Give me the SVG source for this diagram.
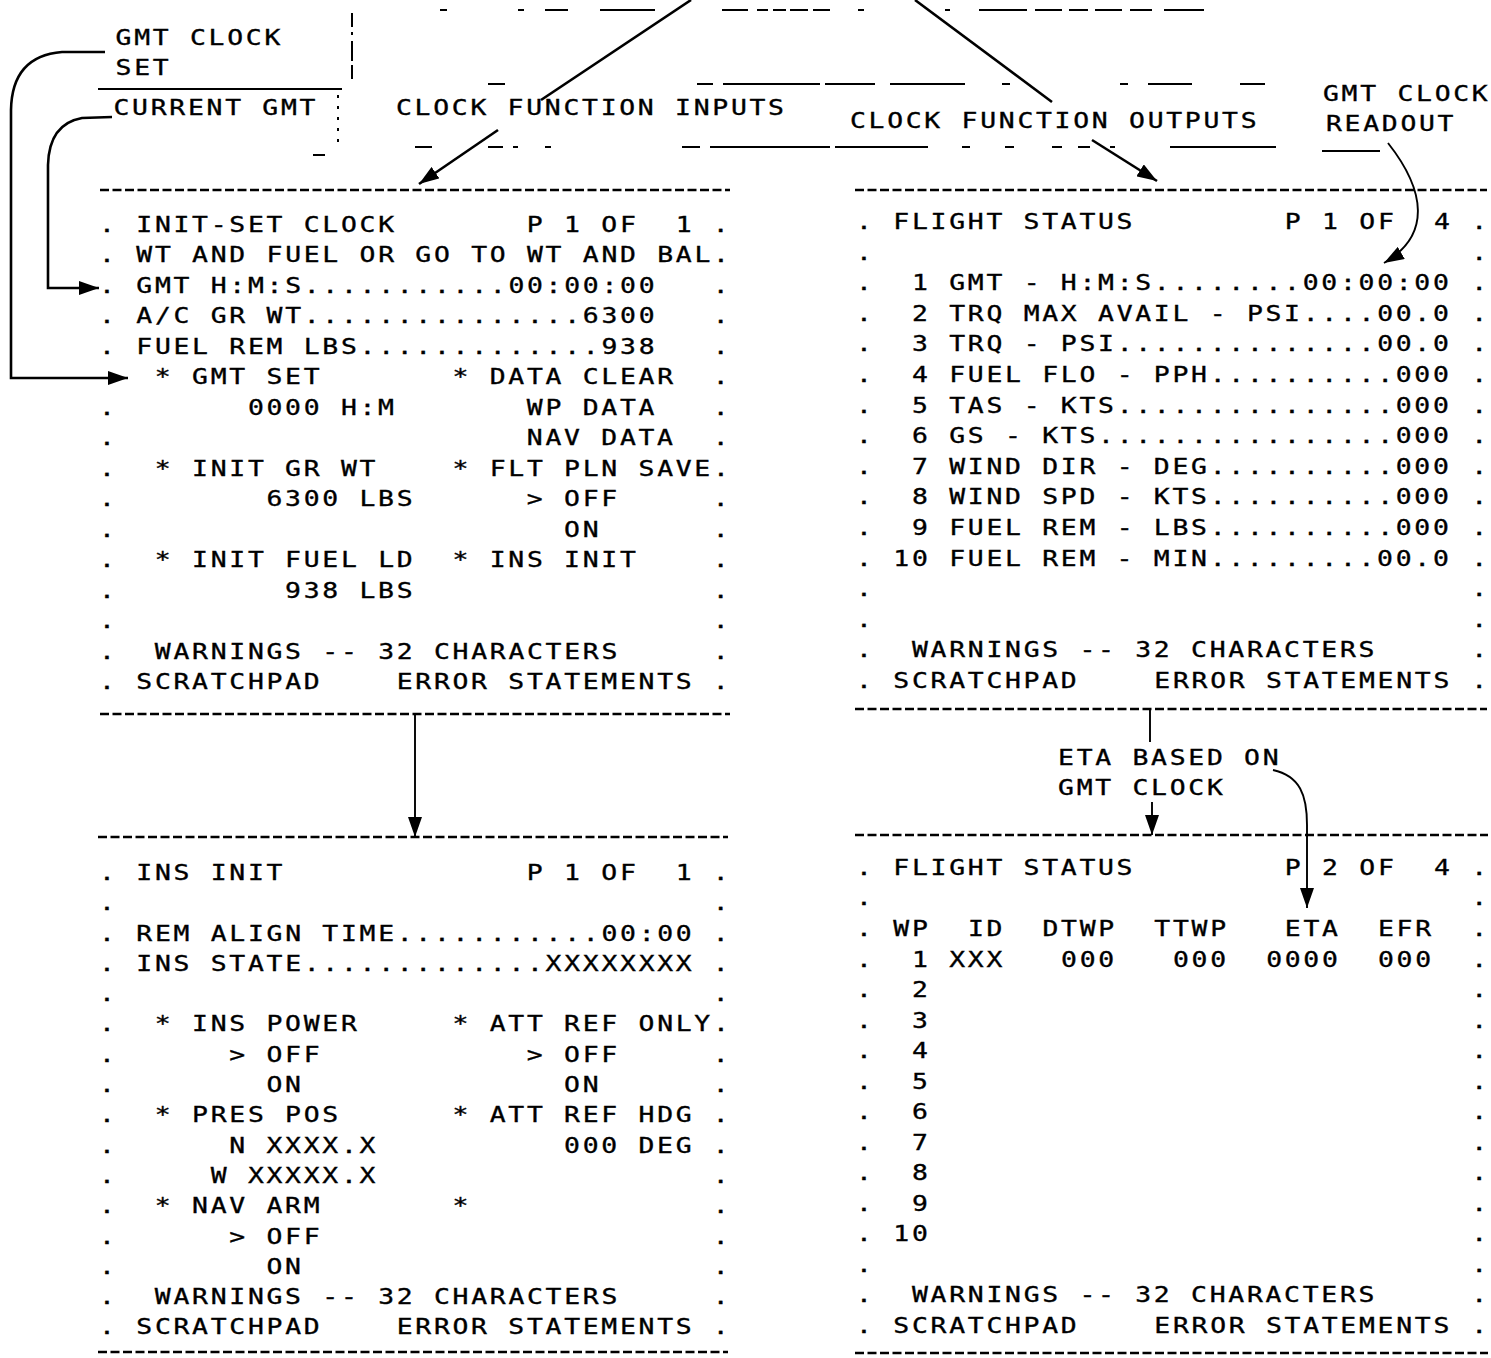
<svg xmlns="http://www.w3.org/2000/svg" width="1491" height="1358" viewBox="0 0 1491 1358">
<style>
.t{font-family:"DejaVu Sans Mono","Liberation Mono",monospace;font-size:22px;letter-spacing:2.27px;white-space:pre;fill:#000;stroke:#000;stroke-width:0.35}
.dash{stroke:#000;stroke-width:2.6;stroke-dasharray:9 3.5;fill:none}
.frag{stroke:#000;stroke-width:2;fill:none}
.con{stroke:#000;stroke-width:2.6;fill:none}
.thin{stroke:#000;stroke-width:1.9;fill:none}
</style>
<defs>
<marker id="ah" markerUnits="userSpaceOnUse" markerWidth="22" markerHeight="14" refX="20" refY="7" orient="auto">
<path d="M0,0 L20,7 L0,14 z" fill="#000"/>
</marker>
</defs>
<rect width="1491" height="1358" fill="#fff"/>

<g id="labels">
<g transform="scale(1.2 1)">
<text class="t" x="96.3" y="45.5">GMT CLOCK</text>
<text class="t" x="96.3" y="75">SET</text>
<text class="t" x="94.6" y="115.5">CURRENT GMT</text>
<text class="t" x="330" y="115">CLOCK FUNCTION INPUTS</text>
<text class="t" x="708.3" y="128">CLOCK FUNCTION OUTPUTS</text>
<text class="t" x="1102.5" y="101">GMT CLOCK</text>
<text class="t" x="1105" y="131">READOUT</text>
<text class="t" x="881.7" y="765">ETA BASED ON</text>
<text class="t" x="881.7" y="795">GMT CLOCK</text>
</g>
<path class="frag" d="M98 89 H342"/>
<path class="frag" stroke-dasharray="14 5 3 6 20 4" d="M352 13 V82"/>
<path class="frag" stroke-dasharray="3 8" d="M338 95 V150"/>
<path class="frag" d="M313 155 H325"/>
<path class="frag" d="M440 10H447M518 10H524M545 10H568M600 10H655M722 10H748M757 10H768M773 10H786M790 10H808M813 10H830M858 10H864M945 10H950M979 10H1027M1035 10H1062M1069 10H1088M1095 10H1122M1130 10H1152M1164 10H1204"/>
<path class="frag" d="M488 84H505M697 84H713M723 84H820M825 84H875M890 84H965M1002 84H1010M1120 84H1128M1148 84H1192M1240 84H1265"/>
<path class="frag" d="M415 147H432M488 147H503M513 147H518M545 147H551M682 147H700M710 147H830M835 147H928M962 147H970M1005 147H1014M1052 147H1062M1078 147H1090M1110 147H1115M1170 147H1276M1322 151H1380"/>
</g>

<g id="panel-init-set-clock">
<path class="dash" d="M100 190 H730"/>
<path class="dash" d="M100 714 H730"/>
<g transform="scale(1.2 1)">
<text class="t" y="232"><tspan x="82.57">.</tspan><tspan x="113.57">INIT-SET CLOCK</tspan><tspan x="439.07">P</tspan><tspan x="470.07">1</tspan><tspan x="501.07">OF</tspan><tspan x="563.07">1</tspan><tspan x="594.07">.</tspan></text>
<text class="t" y="262.5"><tspan x="82.57">.</tspan><tspan x="113.57">WT AND FUEL OR GO TO WT AND BAL.</tspan></text>
<text class="t" y="293"><tspan x="82.57">.</tspan><tspan x="113.57">GMT H:M:S...........00:00:00</tspan><tspan x="594.07">.</tspan></text>
<text class="t" y="323.5"><tspan x="82.57">.</tspan><tspan x="113.57">A/C GR WT...............6300</tspan><tspan x="594.07">.</tspan></text>
<text class="t" y="354"><tspan x="82.57">.</tspan><tspan x="113.57">FUEL REM LBS.............938</tspan><tspan x="594.07">.</tspan></text>
<text class="t" y="384.5"><tspan x="129.07">* GMT SET</tspan><tspan x="377.07">* DATA CLEAR</tspan><tspan x="594.07">.</tspan></text>
<text class="t" y="415"><tspan x="82.57">.</tspan><tspan x="206.57">0000 H:M</tspan><tspan x="439.07">WP DATA</tspan><tspan x="594.07">.</tspan></text>
<text class="t" y="445.5"><tspan x="82.57">.</tspan><tspan x="439.07">NAV DATA</tspan><tspan x="594.07">.</tspan></text>
<text class="t" y="476"><tspan x="82.57">.</tspan><tspan x="129.07">* INIT GR WT</tspan><tspan x="377.07">* FLT PLN SAVE.</tspan></text>
<text class="t" y="506.5"><tspan x="82.57">.</tspan><tspan x="222.07">6300 LBS</tspan><tspan x="439.07">&gt; OFF</tspan><tspan x="594.07">.</tspan></text>
<text class="t" y="537"><tspan x="82.57">.</tspan><tspan x="470.07">ON</tspan><tspan x="594.07">.</tspan></text>
<text class="t" y="567.5"><tspan x="82.57">.</tspan><tspan x="129.07">* INIT FUEL LD</tspan><tspan x="377.07">* INS INIT</tspan><tspan x="594.07">.</tspan></text>
<text class="t" y="598"><tspan x="82.57">.</tspan><tspan x="237.57">938 LBS</tspan><tspan x="594.07">.</tspan></text>
<text class="t" y="628.5"><tspan x="82.57">.</tspan><tspan x="594.07">.</tspan></text>
<text class="t" y="659"><tspan x="82.57">.</tspan><tspan x="129.07">WARNINGS -- 32 CHARACTERS</tspan><tspan x="594.07">.</tspan></text>
<text class="t" y="689.5"><tspan x="82.57">.</tspan><tspan x="113.57">SCRATCHPAD</tspan><tspan x="330.57">ERROR STATEMENTS</tspan><tspan x="594.07">.</tspan></text>
</g>
</g>

<g id="panel-flight-status-1">
<path class="dash" d="M855 190 H1487"/>
<path class="dash" d="M855 709 H1487"/>
<g transform="scale(1.2 1)">
<text class="t" y="229"><tspan x="713.4">.</tspan><tspan x="744.47">FLIGHT STATUS</tspan><tspan x="1070.66">P</tspan><tspan x="1101.73">1</tspan><tspan x="1132.79">OF</tspan><tspan x="1194.92">4</tspan><tspan x="1225.99">.</tspan></text>
<text class="t" y="259.6"><tspan x="713.4">.</tspan><tspan x="1225.99">.</tspan></text>
<text class="t" y="290.2"><tspan x="713.4">.</tspan><tspan x="760">1 GMT - H:M:S........00:00:00</tspan><tspan x="1225.99">.</tspan></text>
<text class="t" y="320.8"><tspan x="713.4">.</tspan><tspan x="760">2 TRQ MAX AVAIL - PSI....00.0</tspan><tspan x="1225.99">.</tspan></text>
<text class="t" y="351.4"><tspan x="713.4">.</tspan><tspan x="760">3 TRQ - PSI..............00.0</tspan><tspan x="1225.99">.</tspan></text>
<text class="t" y="382"><tspan x="713.4">.</tspan><tspan x="760">4 FUEL FLO - PPH..........000</tspan><tspan x="1225.99">.</tspan></text>
<text class="t" y="412.6"><tspan x="713.4">.</tspan><tspan x="760">5 TAS - KTS...............000</tspan><tspan x="1225.99">.</tspan></text>
<text class="t" y="443.2"><tspan x="713.4">.</tspan><tspan x="760">6 GS - KTS................000</tspan><tspan x="1225.99">.</tspan></text>
<text class="t" y="473.8"><tspan x="713.4">.</tspan><tspan x="760">7 WIND DIR - DEG..........000</tspan><tspan x="1225.99">.</tspan></text>
<text class="t" y="504.4"><tspan x="713.4">.</tspan><tspan x="760">8 WIND SPD - KTS..........000</tspan><tspan x="1225.99">.</tspan></text>
<text class="t" y="535"><tspan x="713.4">.</tspan><tspan x="760">9 FUEL REM - LBS..........000</tspan><tspan x="1225.99">.</tspan></text>
<text class="t" y="565.6"><tspan x="713.4">.</tspan><tspan x="744.47">10 FUEL REM - MIN.........00.0</tspan><tspan x="1225.99">.</tspan></text>
<text class="t" y="596.2"><tspan x="713.4">.</tspan><tspan x="1225.99">.</tspan></text>
<text class="t" y="626.8"><tspan x="713.4">.</tspan><tspan x="1225.99">.</tspan></text>
<text class="t" y="657.4"><tspan x="713.4">.</tspan><tspan x="760">WARNINGS -- 32 CHARACTERS</tspan><tspan x="1225.99">.</tspan></text>
<text class="t" y="688"><tspan x="713.4">.</tspan><tspan x="744.47">SCRATCHPAD</tspan><tspan x="961.93">ERROR STATEMENTS</tspan><tspan x="1225.99">.</tspan></text>
</g>
</g>

<g id="panel-ins-init">
<path class="dash" d="M98 837 H728"/>
<path class="dash" d="M98 1352 H728"/>
<g transform="scale(1.2 1)">
<text class="t" y="880"><tspan x="82.57">.</tspan><tspan x="113.57">INS INIT</tspan><tspan x="439.07">P</tspan><tspan x="470.07">1</tspan><tspan x="501.07">OF</tspan><tspan x="563.07">1</tspan><tspan x="594.07">.</tspan></text>
<text class="t" y="910.3"><tspan x="82.57">.</tspan><tspan x="594.07">.</tspan></text>
<text class="t" y="940.6"><tspan x="82.57">.</tspan><tspan x="113.57">REM ALIGN TIME...........00:00</tspan><tspan x="594.07">.</tspan></text>
<text class="t" y="970.9"><tspan x="82.57">.</tspan><tspan x="113.57">INS STATE.............XXXXXXXX</tspan><tspan x="594.07">.</tspan></text>
<text class="t" y="1001.2"><tspan x="82.57">.</tspan><tspan x="594.07">.</tspan></text>
<text class="t" y="1031.5"><tspan x="82.57">.</tspan><tspan x="129.07">* INS POWER</tspan><tspan x="377.07">* ATT REF ONLY.</tspan></text>
<text class="t" y="1061.8"><tspan x="82.57">.</tspan><tspan x="191.07">&gt; OFF</tspan><tspan x="439.07">&gt; OFF</tspan><tspan x="594.07">.</tspan></text>
<text class="t" y="1092.1"><tspan x="82.57">.</tspan><tspan x="222.07">ON</tspan><tspan x="470.07">ON</tspan><tspan x="594.07">.</tspan></text>
<text class="t" y="1122.4"><tspan x="82.57">.</tspan><tspan x="129.07">* PRES POS</tspan><tspan x="377.07">* ATT REF HDG</tspan><tspan x="594.07">.</tspan></text>
<text class="t" y="1152.7"><tspan x="82.57">.</tspan><tspan x="191.07">N XXXX.X</tspan><tspan x="470.07">000 DEG</tspan><tspan x="594.07">.</tspan></text>
<text class="t" y="1183"><tspan x="82.57">.</tspan><tspan x="175.57">W XXXXX.X</tspan><tspan x="594.07">.</tspan></text>
<text class="t" y="1213.3"><tspan x="82.57">.</tspan><tspan x="129.07">* NAV ARM</tspan><tspan x="377.07">*</tspan><tspan x="594.07">.</tspan></text>
<text class="t" y="1243.6"><tspan x="82.57">.</tspan><tspan x="191.07">&gt; OFF</tspan><tspan x="594.07">.</tspan></text>
<text class="t" y="1273.9"><tspan x="82.57">.</tspan><tspan x="222.07">ON</tspan><tspan x="594.07">.</tspan></text>
<text class="t" y="1304.2"><tspan x="82.57">.</tspan><tspan x="129.07">WARNINGS -- 32 CHARACTERS</tspan><tspan x="594.07">.</tspan></text>
<text class="t" y="1334.5"><tspan x="82.57">.</tspan><tspan x="113.57">SCRATCHPAD</tspan><tspan x="330.57">ERROR STATEMENTS</tspan><tspan x="594.07">.</tspan></text>
</g>
</g>

<g id="panel-flight-status-2">
<path class="dash" d="M855 835 H1488"/>
<path class="dash" d="M855 1353 H1488"/>
<g transform="scale(1.2 1)">
<text class="t" y="875"><tspan x="713.4">.</tspan><tspan x="744.47">FLIGHT STATUS</tspan><tspan x="1070.66">P</tspan><tspan x="1101.73">2</tspan><tspan x="1132.79">OF</tspan><tspan x="1194.92">4</tspan><tspan x="1225.99">.</tspan></text>
<text class="t" y="905.5"><tspan x="713.4">.</tspan><tspan x="1225.99">.</tspan></text>
<text class="t" y="936.1"><tspan x="713.4">.</tspan><tspan x="744.47">WP</tspan><tspan x="806.6">ID</tspan><tspan x="868.73">DTWP</tspan><tspan x="961.93">TTWP</tspan><tspan x="1070.66">ETA</tspan><tspan x="1148.32">EFR</tspan><tspan x="1225.99">.</tspan></text>
<text class="t" y="966.6"><tspan x="713.4">.</tspan><tspan x="760">1</tspan><tspan x="791.07">XXX</tspan><tspan x="884.27">000</tspan><tspan x="977.46">000</tspan><tspan x="1055.13">0000</tspan><tspan x="1148.32">000</tspan><tspan x="1225.99">.</tspan></text>
<text class="t" y="997.1"><tspan x="713.4">.</tspan><tspan x="760">2</tspan><tspan x="1225.99">.</tspan></text>
<text class="t" y="1027.7"><tspan x="713.4">.</tspan><tspan x="760">3</tspan><tspan x="1225.99">.</tspan></text>
<text class="t" y="1058.2"><tspan x="713.4">.</tspan><tspan x="760">4</tspan><tspan x="1225.99">.</tspan></text>
<text class="t" y="1088.7"><tspan x="713.4">.</tspan><tspan x="760">5</tspan><tspan x="1225.99">.</tspan></text>
<text class="t" y="1119.2"><tspan x="713.4">.</tspan><tspan x="760">6</tspan><tspan x="1225.99">.</tspan></text>
<text class="t" y="1149.8"><tspan x="713.4">.</tspan><tspan x="760">7</tspan><tspan x="1225.99">.</tspan></text>
<text class="t" y="1180.3"><tspan x="713.4">.</tspan><tspan x="760">8</tspan><tspan x="1225.99">.</tspan></text>
<text class="t" y="1210.8"><tspan x="713.4">.</tspan><tspan x="760">9</tspan><tspan x="1225.99">.</tspan></text>
<text class="t" y="1241.4"><tspan x="713.4">.</tspan><tspan x="744.47">10</tspan><tspan x="1225.99">.</tspan></text>
<text class="t" y="1271.9"><tspan x="713.4">.</tspan><tspan x="1225.99">.</tspan></text>
<text class="t" y="1302.4"><tspan x="713.4">.</tspan><tspan x="760">WARNINGS -- 32 CHARACTERS</tspan><tspan x="1225.99">.</tspan></text>
<text class="t" y="1333"><tspan x="713.4">.</tspan><tspan x="744.47">SCRATCHPAD</tspan><tspan x="961.93">ERROR STATEMENTS</tspan><tspan x="1225.99">.</tspan></text>
</g>
</g>

<g id="connectors">
<path class="con" d="M105 52 L62 52 Q12 56 11 110 L11 378 L128 378" marker-end="url(#ah)"/>
<path class="con" d="M112 117 L82 118 Q49 124 48 165 L48 288 L99 288" marker-end="url(#ah)"/>
<path class="con" d="M691 0 L541 100"/>
<path class="con" d="M498 130 L419 184" marker-end="url(#ah)"/>
<path class="con" d="M915 0 L1052 102"/>
<path class="con" d="M1092 140 L1157 181" marker-end="url(#ah)"/>
<path class="thin" d="M1388 143 C1425 190 1432 235 1384 263" marker-end="url(#ah)"/>
<path class="thin" d="M415 714 L415 837" marker-end="url(#ah)"/>
<path class="thin" d="M1150 709 L1150 742"/>
<path class="thin" d="M1152 802 L1152 835" marker-end="url(#ah)"/>
<path class="thin" d="M1273 770 C1300 776 1307 795 1307 825 L1307 908" marker-end="url(#ah)"/>
</g>
</svg>
